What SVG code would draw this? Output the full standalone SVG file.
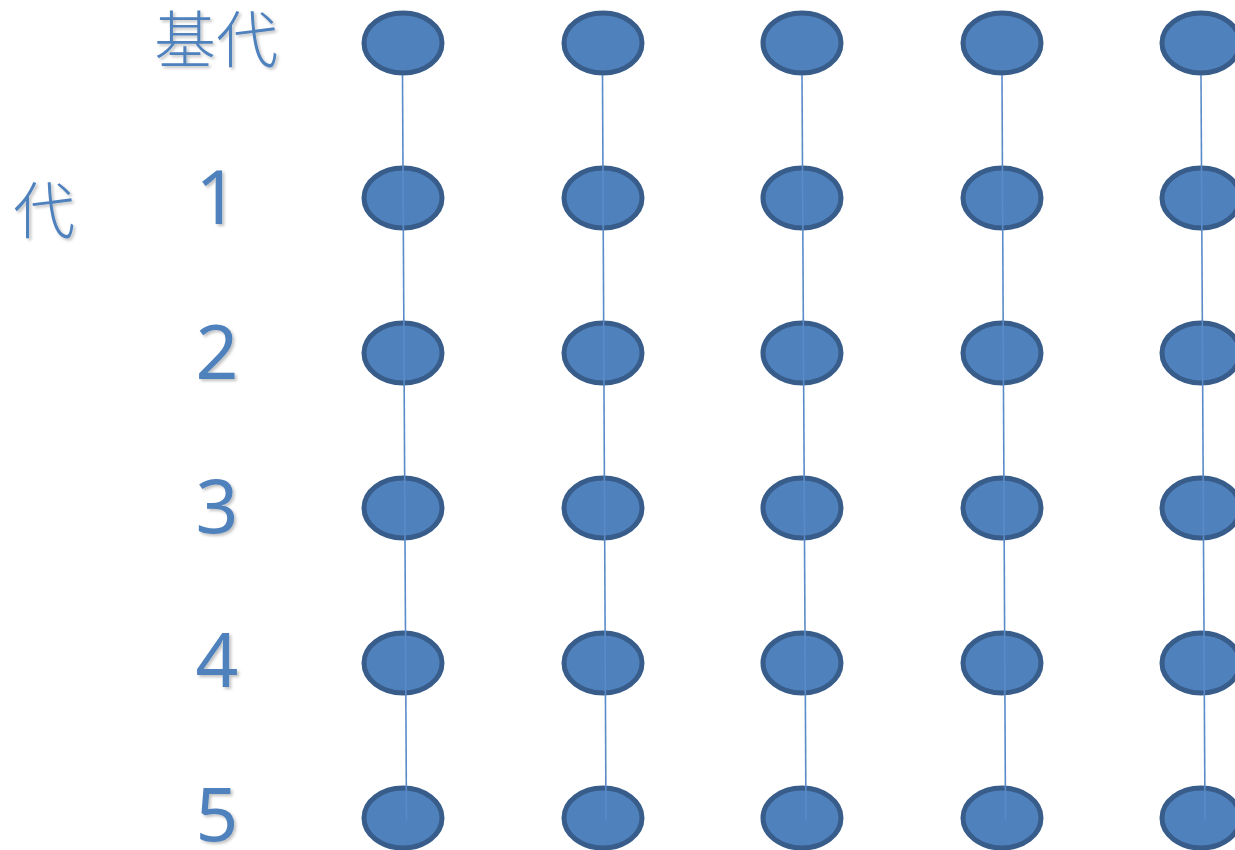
<svg xmlns="http://www.w3.org/2000/svg" width="1235" height="850" viewBox="0 0 1235 850">
<style>
.n{fill:#4f81bd;stroke:#385d8a;stroke-width:5}
.c{stroke:#5a8bc8;stroke-width:1.6;fill:none}
.cjk{font-family:"Noto Sans CJK SC","Noto Sans CJK JP",sans-serif;font-weight:300;font-size:62px;fill:#4f81bd}
.num{font-family:"Noto Sans","Open Sans",sans-serif;font-size:75px;fill:#4f81bd;text-anchor:middle}
</style>
<defs>
<filter id="sh" x="-20%" y="-20%" width="150%" height="150%">
<feDropShadow dx="2" dy="2" stdDeviation="1.5" flood-color="#000" flood-opacity="0.25"/>
</filter>
</defs>
<rect width="1235" height="850" fill="#fff"/>
<g id="labels" filter="url(#sh)">
<text class="cjk" x="154" y="63">基代</text>
<text class="cjk" x="13" y="234">代</text>
<text class="num" x="217" y="224">1</text>
<text class="num" x="217" y="379">2</text>
<text class="num" x="217" y="533">3</text>
<text class="num" x="217" y="687">4</text>
<text class="num" x="217" y="841">5</text>
</g>
<g id="nodes">
<g id="c1">
<ellipse class="n" cx="403" cy="43" rx="39" ry="30"/>
<ellipse class="n" cx="403" cy="198" rx="39" ry="30"/>
<ellipse class="n" cx="403" cy="353" rx="39" ry="30"/>
<ellipse class="n" cx="403" cy="508" rx="39" ry="30"/>
<ellipse class="n" cx="403" cy="663" rx="39" ry="30"/>
<ellipse class="n" cx="403" cy="818" rx="39" ry="30"/>
</g>
<g id="c2">
<ellipse class="n" cx="603" cy="43" rx="39" ry="30"/>
<ellipse class="n" cx="603" cy="198" rx="39" ry="30"/>
<ellipse class="n" cx="603" cy="353" rx="39" ry="30"/>
<ellipse class="n" cx="603" cy="508" rx="39" ry="30"/>
<ellipse class="n" cx="603" cy="663" rx="39" ry="30"/>
<ellipse class="n" cx="603" cy="818" rx="39" ry="30"/>
</g>
<g id="c3">
<ellipse class="n" cx="802" cy="43" rx="39" ry="30"/>
<ellipse class="n" cx="802" cy="198" rx="39" ry="30"/>
<ellipse class="n" cx="802" cy="353" rx="39" ry="30"/>
<ellipse class="n" cx="802" cy="508" rx="39" ry="30"/>
<ellipse class="n" cx="802" cy="663" rx="39" ry="30"/>
<ellipse class="n" cx="802" cy="818" rx="39" ry="30"/>
</g>
<g id="c4">
<ellipse class="n" cx="1002" cy="43" rx="39" ry="30"/>
<ellipse class="n" cx="1002" cy="198" rx="39" ry="30"/>
<ellipse class="n" cx="1002" cy="353" rx="39" ry="30"/>
<ellipse class="n" cx="1002" cy="508" rx="39" ry="30"/>
<ellipse class="n" cx="1002" cy="663" rx="39" ry="30"/>
<ellipse class="n" cx="1002" cy="818" rx="39" ry="30"/>
</g>
<g id="c5">
<ellipse class="n" cx="1201" cy="43" rx="39" ry="30"/>
<ellipse class="n" cx="1201" cy="198" rx="39" ry="30"/>
<ellipse class="n" cx="1201" cy="353" rx="39" ry="30"/>
<ellipse class="n" cx="1201" cy="508" rx="39" ry="30"/>
<ellipse class="n" cx="1201" cy="663" rx="39" ry="30"/>
<ellipse class="n" cx="1201" cy="818" rx="39" ry="30"/>
</g>
</g>
<g id="connectors">
<line class="c" x1="402.5" y1="75" x2="406.5" y2="820"/>
<line class="c" x1="602.5" y1="75" x2="606" y2="820"/>
<line class="c" x1="802" y1="75" x2="806" y2="820"/>
<line class="c" x1="1002" y1="75" x2="1005.5" y2="820"/>
<line class="c" x1="1201" y1="75" x2="1205" y2="820"/>
</g>
</svg>
